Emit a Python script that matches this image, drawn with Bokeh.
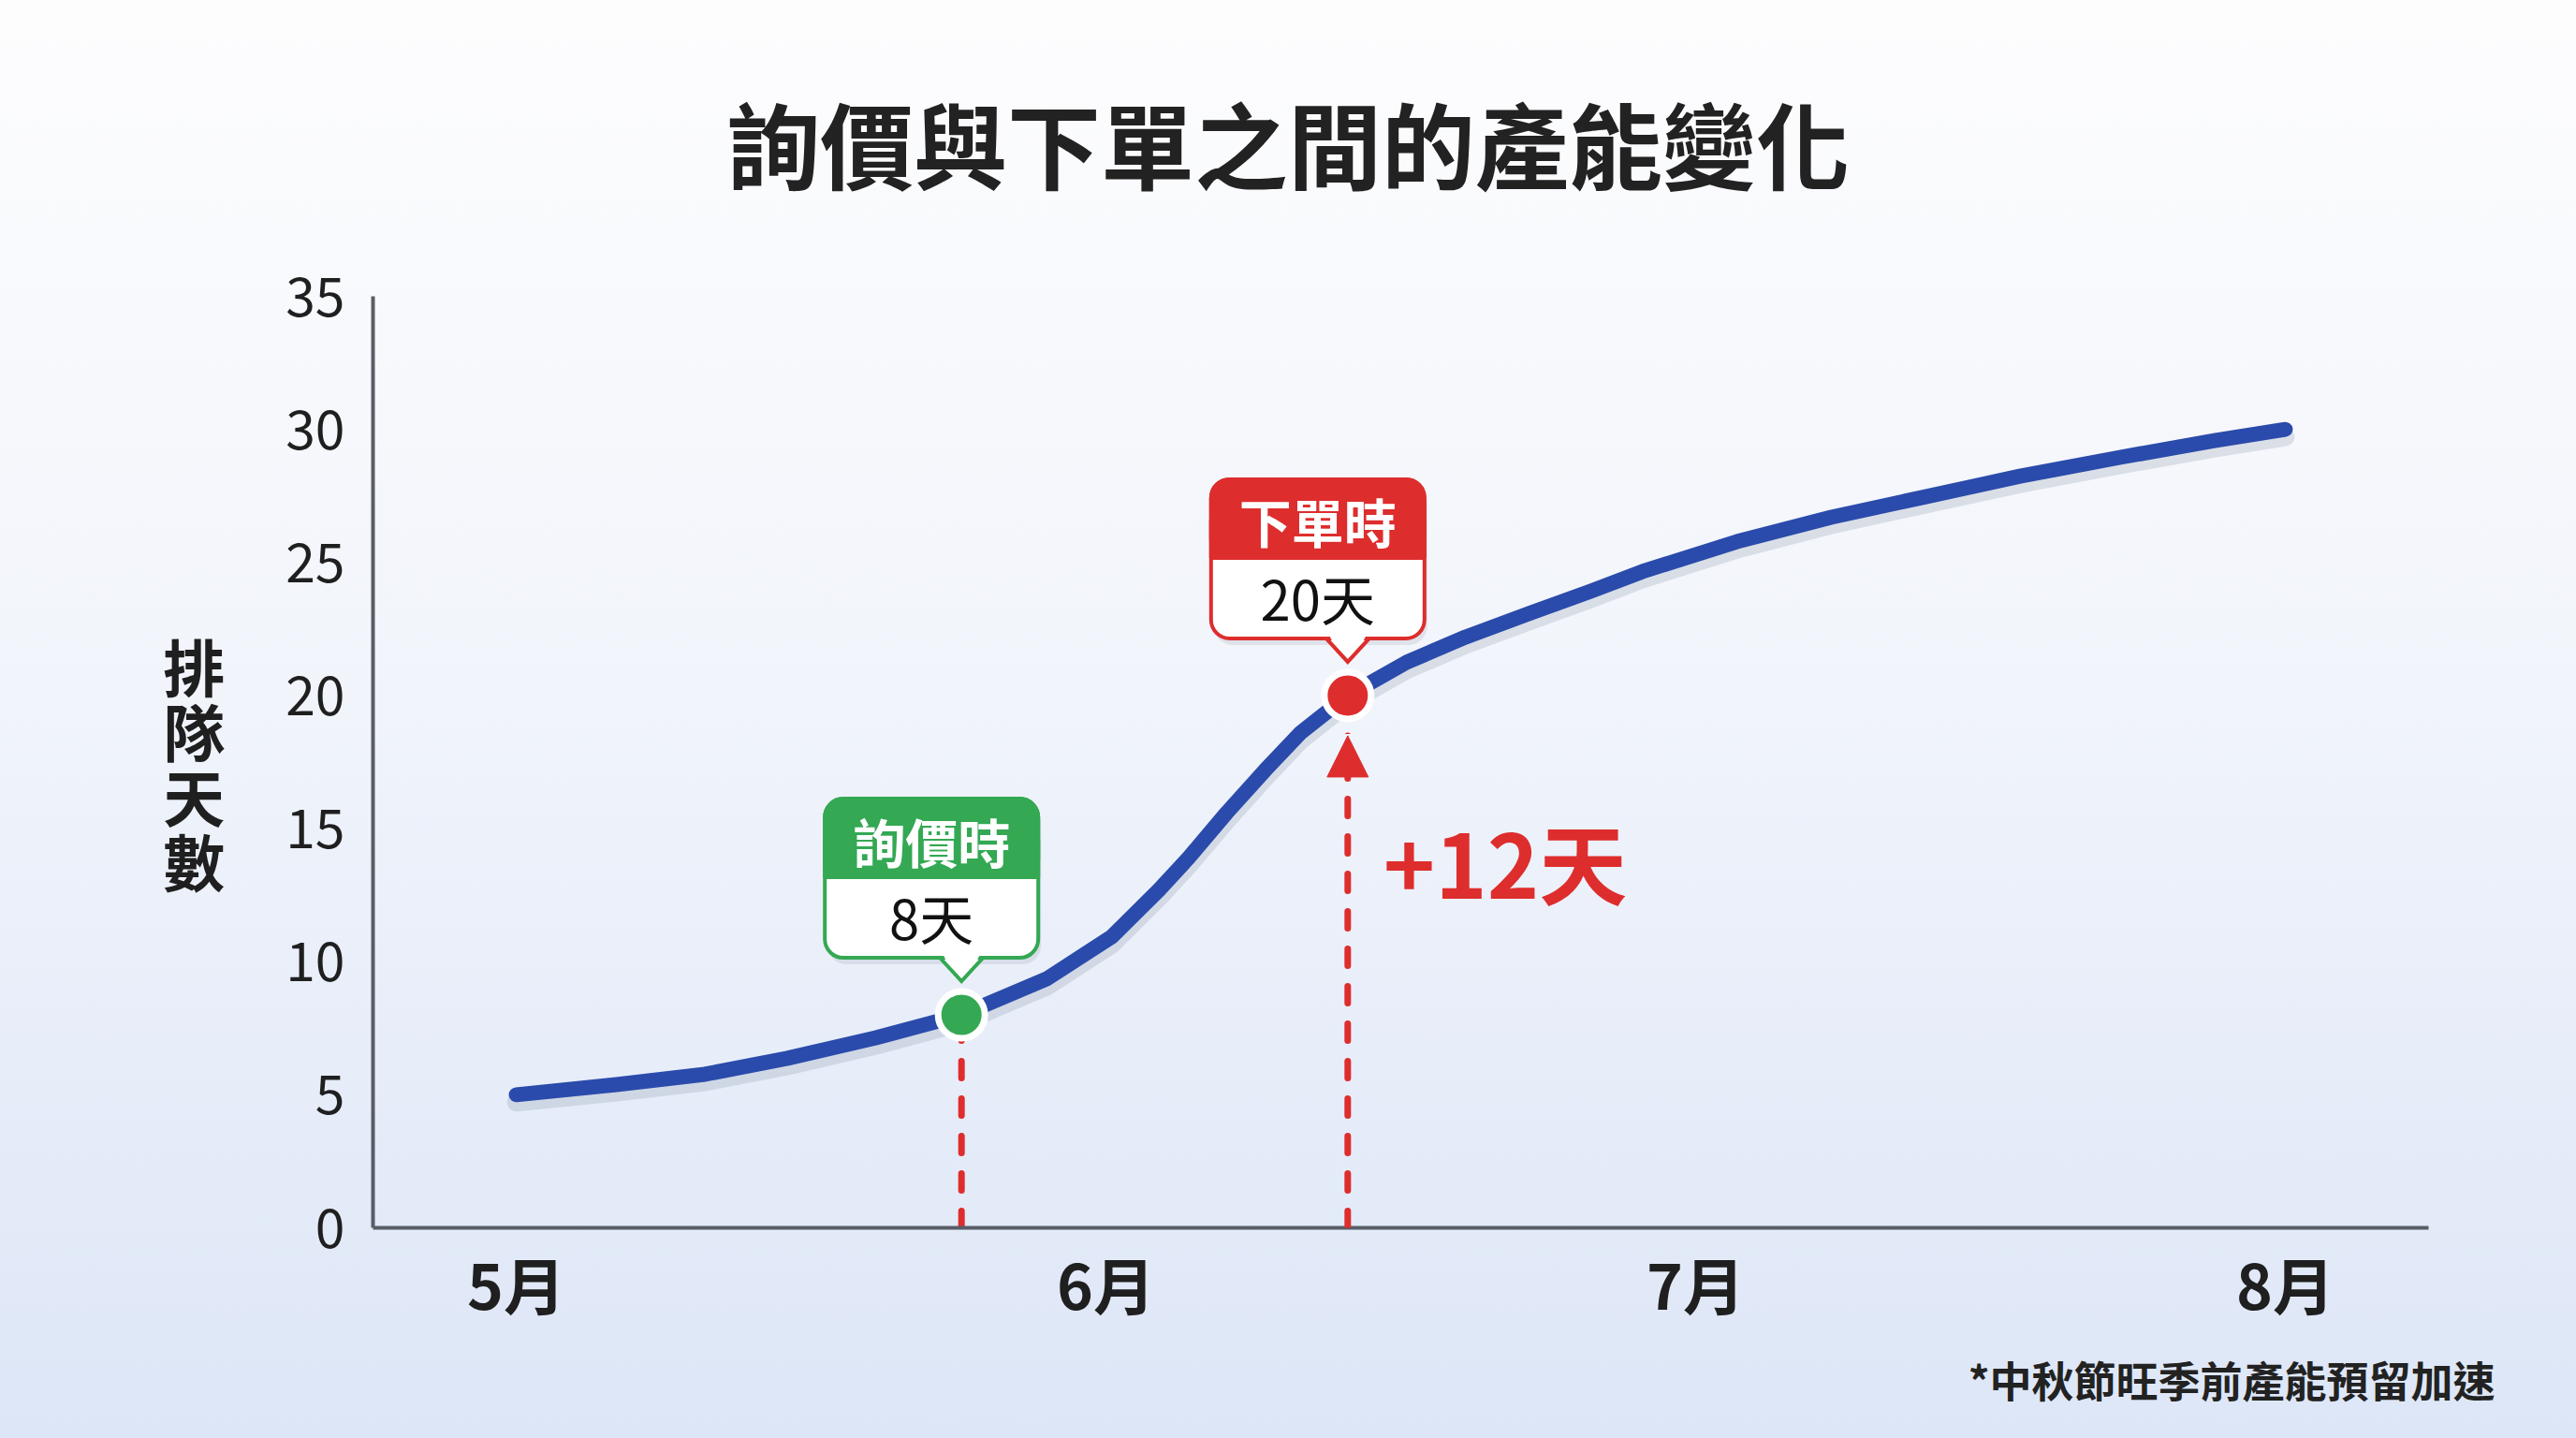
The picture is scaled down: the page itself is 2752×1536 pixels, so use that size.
from bokeh.plotting import figure
from bokeh.layouts import column
from bokeh.models import (Range1d, FixedTicker, Label, Title, BoxAnnotation, PolyAnnotation,
                          Arrow, NormalHead, Div)
from bokeh.embed import file_html
from bokeh.resources import INLINE

# ---------------- data ----------------
title_text = "詢價與下單之間的產能變化"
y_axis_title = "排隊天數"
footnote = "*中秋節旺季前產能預留加速"

month_ticks = [0, 1, 2, 3]
month_labels = ["5月", "6月", "7月", "8月"]
day_ticks = [0, 5, 10, 15, 20, 25, 30, 35]

curve_x = [0.00, 0.17, 0.32, 0.46, 0.61, 0.755, 0.90, 1.01, 1.09, 1.14, 1.205, 1.27,
           1.33, 1.41, 1.51, 1.61, 1.72, 1.82, 1.91, 2.07, 2.23, 2.39, 2.55, 2.72, 2.88, 3.00]
curve_days = [5.0, 5.38, 5.77, 6.37, 7.14, 8.0, 9.36, 10.94, 12.7, 13.9, 15.6, 17.2,
              18.6, 20.0, 21.25, 22.2, 23.1, 23.9, 24.66, 25.78, 26.7, 27.47, 28.24, 28.95, 29.58, 30.0]

event_names = ["詢價時", "下單時"]
event_x = [0.755, 1.41]
event_days = [8, 20]
event_colors = ["#34a853", "#de2d2d"]

# ---------------- layout ----------------
W, H = 2752, 1536
TITLE_H = 230
PH = H - TITLE_H
ML, MR, MT, MB = 398, 158, 316 - TITLE_H, 225
FRAME_W = W - ML - MR
FRAME_H = PH - MT - MB
X0, X1 = -0.243, 3.243
Y0, Y1 = 0, 35
PX_X = (X1 - X0) / FRAME_W
PX_Y = (Y1 - Y0) / FRAME_H

FONT = "Noto Sans CJK TC"
RED = "#de2d2d"
BLUE = "#2a4bab"

title_div = Div(
    text=title_text, width=W, height=TITLE_H, margin=0,
    styles={"font-family": "'Noto Sans CJK TC', sans-serif", "font-size": "100px",
            "font-weight": "bold", "color": "#222222", "text-align": "center",
            "line-height": "120px", "padding-top": "92px", "box-sizing": "border-box",
            "width": f"{W}px"})

p = figure(width=W, height=PH, x_range=Range1d(X0, X1), y_range=Range1d(Y0, Y1),
           output_backend="svg", toolbar_location=None, margin=0,
           min_border_left=ML, min_border_right=MR, min_border_top=MT, min_border_bottom=MB)
p.background_fill_color = None
p.border_fill_color = None
p.outline_line_color = None
p.xgrid.grid_line_color = None
p.ygrid.grid_line_color = None

xa = p.xaxis[0]
ya = p.yaxis[0]
xa.ticker = FixedTicker(ticks=month_ticks)
xa.major_label_overrides = {t: l for t, l in zip(month_ticks, month_labels)}
ya.ticker = FixedTicker(ticks=day_ticks)
for ax in (xa, ya):
    ax.axis_line_color = "#595e66"
    ax.axis_line_width = 4
    ax.major_tick_line_color = None
    ax.minor_tick_line_color = None
    ax.major_tick_out = 0
    ax.major_tick_in = 0
    ax.minor_tick_out = 0
    ax.major_label_text_font = FONT
    ax.major_label_text_color = "#1f1f1f"
xa.major_label_text_font_size = "66px"
xa.major_label_text_font_style = "bold"
xa.major_label_standoff = 10
ya.major_label_text_font_size = "57px"
ya.major_label_standoff = 30
ya.axis_label = "\n".join(y_axis_title)
ya.axis_label_orientation = "horizontal"
ya.axis_label_text_font = FONT
ya.axis_label_text_font_size = "66px"
ya.axis_label_text_font_style = "bold"
ya.axis_label_text_color = "#1f1f1f"
ya.axis_label_text_line_height = 0.72
ya.axis_label_standoff = 62

# footnote under the x axis, right aligned
p.add_layout(Title(text=footnote, align="right", offset=-71, standoff=36, text_font=FONT,
                   text_font_size="45px", text_font_style="bold", text_color="#222222"),
             "below")

# curve with soft shadow
p.line(curve_x, [d - 8 * PX_Y for d in curve_days], line_color="#7d879c", line_alpha=0.22,
       line_width=20, line_cap="round", line_join="round")
p.line(curve_x, curve_days, line_color=BLUE, line_width=16, line_cap="round", line_join="round")

xg, yg = event_x[0], event_days[0]
xr, yr = event_x[1], event_days[1]
p.segment(x0=[xg], y0=[0], x1=[xg], y1=[yg], line_color=RED, line_width=7,
          line_dash="18 22", line_cap="round")

p.add_layout(Arrow(start=None,
                   end=NormalHead(size=44, fill_color=RED, line_color=RED, line_width=1),
                   x_start=xr, y_start=0, x_end=xr, y_end=yr - 43 * PX_Y,
                   line_color=RED, line_width=7, line_dash="18 22", line_cap="round"))

p.scatter(event_x, event_days, size=50, fill_color=event_colors, line_color="white", line_width=7)

# callouts
HALF_W, BOX_H, HEAD_H, GAP, TIP, TRI_HW, BOX_DX, RAD = 114, 170, 84, 61, 36, 23, 32, 20
for name, ex, ed, col in zip(event_names, event_x, event_days, event_colors):
    cx = ex - BOX_DX * PX_X
    left = cx - HALF_W * PX_X
    right = cx + HALF_W * PX_X
    bottom = ed + GAP * PX_Y
    top = bottom + BOX_H * PX_Y
    head_bottom = top - HEAD_H * PX_Y
    p.add_layout(BoxAnnotation(left=left + 3 * PX_X, right=right + 3 * PX_X,
                               bottom=bottom - 7 * PX_Y, top=top - 7 * PX_Y,
                               fill_color="#5a6478", fill_alpha=0.13, line_alpha=0,
                               border_radius=RAD))
    p.add_layout(BoxAnnotation(left=left, right=right, bottom=bottom, top=top,
                               fill_color="white", fill_alpha=1, line_color=col,
                               line_alpha=1, line_width=4, border_radius=RAD))
    p.add_layout(BoxAnnotation(left=left, right=right, bottom=head_bottom, top=top,
                               fill_color=col, fill_alpha=1, line_color=col, line_alpha=1,
                               line_width=4, border_radius=RAD))
    p.add_layout(BoxAnnotation(left=left, right=right, bottom=head_bottom,
                               top=head_bottom + 2 * RAD * PX_Y,
                               fill_color=col, fill_alpha=1, line_color=col, line_alpha=1,
                               line_width=4))
    p.add_layout(PolyAnnotation(xs=[ex - TRI_HW * PX_X, ex + TRI_HW * PX_X, ex],
                                ys=[ed + GAP * PX_Y, ed + GAP * PX_Y, ed + TIP * PX_Y],
                                fill_color="white", fill_alpha=1, line_color=col,
                                line_alpha=1, line_width=4, line_join="miter"))
    p.add_layout(PolyAnnotation(xs=[ex - 20 * PX_X, ex + 20 * PX_X, ex + 16 * PX_X, ex - 16 * PX_X],
                                ys=[ed + (GAP + 4) * PX_Y, ed + (GAP + 4) * PX_Y,
                                    ed + (GAP - 4) * PX_Y, ed + (GAP - 4) * PX_Y],
                                fill_color="white", fill_alpha=1, line_alpha=0))
    p.add_layout(Label(x=cx, y=top, y_offset=-44, text=name, text_align="center",
                       text_baseline="middle", text_color="white", text_font=FONT,
                       text_font_size="56px", text_font_style="bold"))
    p.add_layout(Label(x=cx, y=top, y_offset=-126, text=f"{ed}天", text_align="center",
                       text_baseline="middle", text_color="#111111", text_font=FONT,
                       text_font_size="58px"))

# difference label
p.add_layout(Label(x=xr, y=(yg + yr) / 2, x_offset=38, y_offset=-5,
                   text=f"+{yr - yg}天", text_align="left", text_baseline="middle",
                   text_color=RED, text_font=FONT, text_font_size="94px",
                   text_font_style="bold"))

page = column(title_div, p, spacing=0, margin=0,
              styles={"background": "linear-gradient(180deg, #fdfdfe 0%, #f2f5fb 45%, #dde6f7 100%)"})

open("out.html", "w").write(file_html(page, INLINE))
